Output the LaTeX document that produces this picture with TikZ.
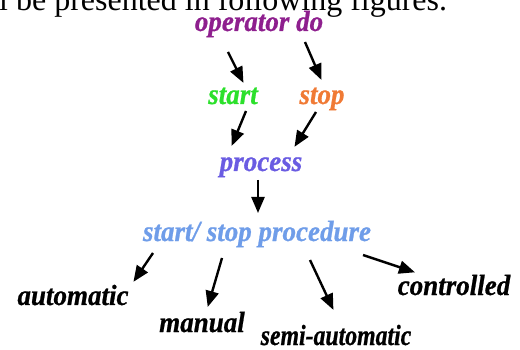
\documentclass[tikz,border=0pt]{standalone}
\usepackage{fontspec}
\setmainfont{Liberation Serif}[BoldItalicFeatures={FakeBold=0.8}]
\usetikzlibrary{arrows.meta}
\definecolor{opcol}{HTML}{8E1F8E}
\definecolor{startcol}{HTML}{2BE02B}
\definecolor{stopcol}{HTML}{F07A35}
\definecolor{proccol}{HTML}{6A5CE2}
\definecolor{procdcol}{HTML}{6F9DE9}
% slightly taller lettering for the labels
\newcommand{\tall}[2][1]{\scalebox{#1}[1.08]{#2}}
\tikzset{
  lbl/.style={inner sep=0pt, anchor=base, font=\fontsize{27}{30}\selectfont\bfseries\itshape},
  flow/.style={line width=2.4pt, -{Triangle[length=16pt,width=13pt]}, shorten >=-1pt}
}
\begin{document}
\begin{tikzpicture}[x=1pt,y=-1pt]
  \useasboundingbox (0,0) rectangle (520,350);
  \clip (0,0) rectangle (520,350);
  % tail of the running text above the figure
  \node[inner sep=0pt, anchor=base west, font=\fontsize{32}{36}\selectfont] (txt) at (-1,11) {l be presented in following figures.};
  % labels
  \node[lbl, text=opcol] (op) at (259,31) {\tall{operator do}};
  \node[lbl, text=startcol] (start) at (233,104) {\tall{start}};
  \node[lbl, text=stopcol] (stop) at (322,104) {\tall{stop}};
  \node[lbl, text=proccol] (proc) at (261,171) {\tall{process}};
  \node[lbl, text=procdcol] (ssp) at (257,241) {\tall{start/ stop procedure}};
  \node[lbl] (auto) at (73,305) {\tall{automatic}};
  \node[lbl] (man) at (202,332) {\tall{manual}};
  \node[lbl] (semi) at (336,345) {\tall[0.88]{semi-automatic}};
  \node[lbl] (ctrl) at (454,295) {\tall{controlled}};
  % arrow end points
  \coordinate (a1s) at (228,52);  \coordinate (a1e) at (243,82);
  \coordinate (a2s) at (305,42);  \coordinate (a2e) at (321,79);
  \coordinate (a3s) at (246,111); \coordinate (a3e) at (232,145);
  \coordinate (a4s) at (316,112); \coordinate (a4e) at (295,146);
  \coordinate (a5s) at (258,180); \coordinate (a5e) at (258,212);
  \coordinate (b1s) at (153,253); \coordinate (b1e) at (134,281);
  \coordinate (b2s) at (222,258); \coordinate (b2e) at (208,306);
  \coordinate (b3s) at (310,260); \coordinate (b3e) at (333,309);
  \coordinate (b4s) at (363,255); \coordinate (b4e) at (414,272);
  % arrows
  \foreach \p in {a1,a2,a3,a4,a5,b1,b2,b3,b4}
    \draw[flow] (\p s) -- (\p e);
\end{tikzpicture}
\end{document}
